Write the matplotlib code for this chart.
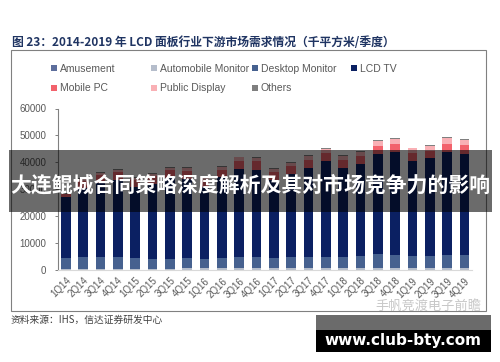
import matplotlib
matplotlib.use('Agg')
import matplotlib.pyplot as plt
from matplotlib.patches import Rectangle
from matplotlib.lines import Line2D
import numpy as np

quarters = ['1Q14', '2Q14', '3Q14', '4Q14', '1Q15', '2Q15', '3Q15', '4Q15',
            '1Q16', '2Q16', '3Q16', '4Q16', '1Q17', '2Q17', '3Q17', '4Q17',
            '1Q18', '2Q18', '3Q18', '4Q18', '1Q19', '2Q19', '3Q19', '4Q19']

amusement = [150, 150, 160, 160, 150, 150, 150, 160, 150, 150, 160, 160,
             150, 150, 160, 160, 150, 150, 160, 160, 150, 150, 160, 160]
automobile_monitor = [350, 360, 370, 380, 380, 390, 400, 410, 410, 420, 430, 440,
                      450, 460, 470, 480, 490, 500, 510, 520, 530, 540, 550, 560]
desktop_monitor = [4100, 4350, 4440, 4430, 4070, 3570, 3560, 3920, 3550, 4030, 4380, 4260,
                   3890, 4250, 4230, 4220, 4220, 4580, 5310, 4930, 4670, 4660, 4900, 4890]
lcd_tv = [22400, 25640, 27530, 28530, 26100, 27990, 29990, 29410, 26690, 29800, 32430, 32340,
          29010, 30740, 33140, 35640, 33140, 34070, 37120, 38190, 35150, 36150, 38090, 37590]
mobile_pc = [1100, 2500, 2800, 2800, 2700, 2800, 2900, 2900, 2800, 2900, 3200, 3200,
             3000, 3000, 3000, 3000, 2900, 3000, 2900, 2900, 2800, 2800, 3200, 3100]
public_display = [200, 700, 900, 900, 800, 900, 1000, 1000, 900, 1000, 1200, 1200,
                  1200, 1200, 1300, 1400, 1400, 1500, 2000, 2000, 1900, 1900, 2100, 2100]
others = [200, 300, 300, 300, 300, 300, 300, 300, 300, 300, 300, 300,
          300, 300, 300, 300, 300, 300, 300, 300, 300, 300, 300, 300]

series_names = ['Amusement', 'Automobile Monitor', 'Desktop Monitor', 'LCD TV',
                'Mobile PC', 'Public Display', 'Others']
series_values = [amusement, automobile_monitor, desktop_monitor, lcd_tv,
                 mobile_pc, public_display, others]
colors = ['#5d6e9c', '#b5bdcb', '#46618f', '#0b2062', '#f2626c', '#f9b0b5', '#7f7f7f']

yticks = [0, 10000, 20000, 30000, 40000, 50000, 60000]

title = '图 23：2014-2019 年 LCD 面板行业下游市场需求情况（千平方米/季度）'
source = '资料来源：IHS，信达证券研发中心'
banner = '大连鲲城合同策略深度解析及其对市场竞争力的影响'
site = 'www.club-bty.com'
wm = '手帆竞渡电子前瞻'

latin = ['Liberation Sans', 'DejaVu Sans']
cjk = ['Noto Sans CJK SC', 'DejaVu Sans']

W, H = 500, 362
fig = plt.figure(figsize=(W / 100, H / 100), dpi=100)

def fx(px):
    return px / W

def fy(py):
    return 1 - py / H

# Outer frame box
fig.patches.append(Rectangle((fx(11), fy(311)), fx(486) - fx(11), fy(50) - fy(311),
                             transform=fig.transFigure, fill=False,
                             edgecolor='#808080', linewidth=0.8, zorder=1))

ax = fig.add_axes([fx(58), fy(270), fx(472) - fx(58), fy(108.5) - fy(270)])
x = np.arange(len(quarters))
bottom = np.zeros(len(quarters))
for name, vals, c in zip(series_names, series_values, colors):
    v = np.array(vals, dtype=float)
    ax.bar(x, v, width=0.56, bottom=bottom, color=c, label=name, linewidth=0)
    bottom += v

ax.set_xlim(-0.46, 23.43)
ax.set_ylim(0, 60000)
ax.set_yticks(yticks)
ax.set_yticklabels([str(t) for t in yticks], family=latin, fontsize=7, color='#595959')
ax.set_xticks(x)
ax.set_xticklabels(quarters, rotation=45, ha='right', rotation_mode='anchor',
                   family=latin, fontsize=7, color='#595959')
ax.tick_params(axis='y', length=2.5, width=0.7, color='#808080', pad=6)
ax.tick_params(axis='x', length=0, pad=4)
for s in ['top', 'right']:
    ax.spines[s].set_visible(False)
ax.spines['left'].set_color('#808080')
ax.spines['left'].set_linewidth(0.8)
ax.spines['bottom'].set_color('#d9d9d9')
ax.spines['bottom'].set_linewidth(0.8)

# Legend in four columns
cols = [(0, 4), (1, 5), (2, 6), (3,)]
col_x = [50.5, 151, 251.5, 351]
for idx, cx in zip(cols, col_x):
    handles = [Line2D([], [], marker='s', linestyle='', markersize=3.8,
                      markerfacecolor=colors[i], markeredgewidth=0) for i in idx]
    labels = [series_names[i] for i in idx]
    fig.legend(handles, labels, loc='upper left', bbox_to_anchor=(fx(cx), fy(64)),
               bbox_transform=fig.transFigure, frameon=False, borderpad=0,
               borderaxespad=0, handlelength=0.6, handletextpad=0.3,
               labelspacing=0.9, prop={'family': latin, 'size': 7.5},
               labelcolor='#595959')

fig.text(fx(12), fy(42), title, family=cjk, fontsize=8.5, fontweight='bold',
         color='#1f3462', ha='left', va='center')
fig.text(fx(11), fy(320), source, family=cjk, fontsize=7, style='italic',
         color='#404040', ha='left', va='center')

# faint watermark
fig.text(fx(375), fy(306), wm, family=cjk, fontsize=9.5, color='#c8c8c8',
         ha='left', va='center')

# Banner overlay
fig.patches.append(Rectangle((fx(9), fy(212)), fx(492) - fx(9), fy(150) - fy(212),
                             transform=fig.transFigure, facecolor='black', alpha=0.58,
                             linewidth=0, zorder=5))
fig.text(fx(250), fy(185), banner, family=cjk, fontsize=15, fontweight='bold',
         color='white', ha='center', va='center', zorder=6)

# Site box
fig.patches.append(Rectangle((fx(316), fy(330)), fx(491) - fx(316), fy(315) - fy(330),
                             transform=fig.transFigure, facecolor='black', alpha=0.58,
                             linewidth=0, zorder=5))
fig.patches.append(Rectangle((fx(316), fy(352)), fx(491) - fx(316), fy(330) - fy(352),
                             transform=fig.transFigure, facecolor='black',
                             linewidth=0, zorder=5))
fig.text(fx(403), fy(340), site, family=['DejaVu Sans'], fontsize=11, fontweight='bold',
         color='white', ha='center', va='center', zorder=6)

fig.savefig('out.png', dpi=100)
